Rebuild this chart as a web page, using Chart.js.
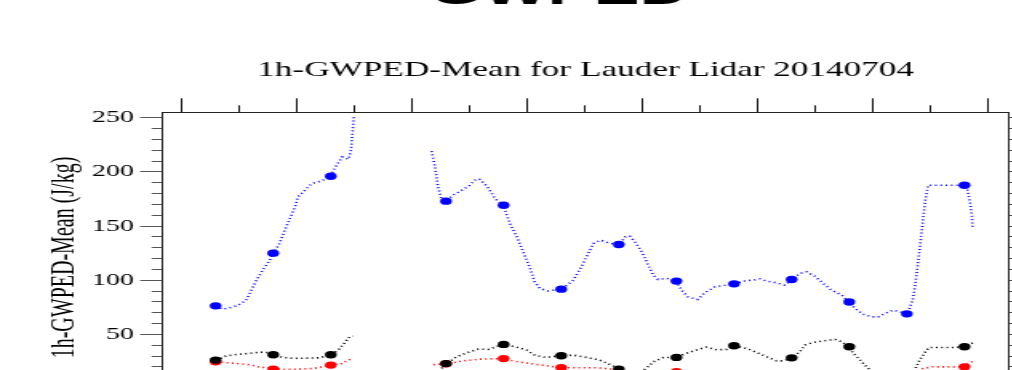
<!DOCTYPE html>
<html>
<head>
<meta charset="utf-8">
<script src="https://cdn.jsdelivr.net/npm/chart.js@4.4.1/dist/chart.umd.min.js"></script>
<style>
  html, body { margin: 0; padding: 0; background: #ffffff; overflow: hidden; width: 1012px; height: 370px; }
  #wrap { position: absolute; left: 0; top: -38px; transform: scaleX(1.6); transform-origin: 0 0; }
</style>
</head>
<body>
<div id="wrap"><canvas id="c" width="699" height="520"></canvas></div>
<script>
// ---- data (hours on the time axis, J/kg on the value axis) ----
const mainTitle = "GWPED";
const plotTitle = "1h-GWPED-Mean for Lauder Lidar 20140704";
const yAxisTitle = "1h-GWPED-Mean (J/kg)";

const hourTicks = [0,1,2,3,4,5,6,7,8,9,10,11,12,13,14];
const valueTicks = [-10,0,10,20,30,40,50,60,70,80,90,100,110,120,130,140,150,160,170,180,190,200,210,220,230,240,250];

const markerHours = [0.58,1.58,2.58,4.58,5.58,6.58,7.58,8.58,9.58,10.58,11.58,12.58,13.58];
const blueMean  = [76.4,125,196,173,169.3,91.8,133,99.2,96.7,100.7,80,69,187.7];
const blackMean = [26.3,31.2,31.2,23.1,40.8,30.3,18,28.8,39.5,28.4,38.6,8,38.6];
const redMean   = [24.7,18,21.7,23,27.7,19.4,15,15.5,13,11,12,9,20.1];

const blueLineHours = [0.59,0.69,0.78,0.95,1.11,1.175,1.29,1.41,1.52,1.585,1.69,1.78,1.87,1.96,2.01,2.10,2.25,2.42,2.57,2.68,2.78,2.89,2.93,2.96,2.98,
  3.6,
  4.33,4.39,4.44,4.50,4.58,4.70,4.88,4.99,5.10,5.17,5.30,5.43,5.57,5.69,5.81,5.92,6.04,6.12,6.21,6.35,6.59,6.79,6.93,7.08,7.14,7.27,7.43,7.59,7.69,7.77,
  7.86,7.98,8.09,8.18,8.26,8.41,8.57,8.67,8.78,8.95,9.07,9.25,9.45,9.59,9.74,9.91,10.03,10.15,10.32,10.46,10.59,10.72,10.84,10.98,11.13,11.27,11.45,11.57,11.68,11.82,
  11.97,12.08,12.20,12.34,12.46,12.59,12.68,12.72,12.78,12.82,12.86,12.90,12.95,13.15,13.33,13.56,13.62,13.68,13.71,13.72];
const blueLineValues = [76.4,73.3,74,76.4,81.4,88.4,100.1,110.2,118.5,125,134,146.2,157,167.7,177,181.5,189.3,191.7,196,206.2,213.8,211.7,220,238.4,251,
  null,
  219.1,204.6,186.2,175.5,173,178.5,183.8,187.7,193.3,193,186.2,175.5,169.3,152.4,140,126.2,110.9,98.5,92.4,90.2,91.8,100.1,112.4,127.8,134,137,134,133,140,140.7,
  135.4,126.2,113.9,104.7,100.7,101.7,99.2,90.9,84.7,82.3,88.4,93.9,95.5,96.7,99.2,100.1,101.3,99.2,97.6,95.5,100.7,106.3,107.7,103.8,97,90.9,86.3,80,74,68.7,
  66.2,66.2,69.4,72.4,70.8,69,81.6,93.9,118.5,137,155.4,173.9,187.7,187.7,187.7,187.7,186.2,170.8,158.5,148.7];

const blackLineHours = [0.585,0.77,0.94,1.175,1.35,1.465,1.59,1.75,1.92,2.16,2.39,2.57,2.71,2.82,2.91,2.96,
  3.6,
  4.33,4.45,4.50,4.59,4.76,4.94,5.14,5.31,5.57,5.78,5.98,6.12,6.30,6.59,6.79,7.02,7.25,7.45,7.59,7.80,7.95,8.06,8.18,8.35,8.57,8.75,8.96,9.10,9.28,9.45,
  9.59,9.80,9.97,10.15,10.32,10.43,10.59,10.72,10.81,10.95,11.13,11.33,11.45,11.57,11.65,11.77,11.88,12.05,12.30,12.59,12.72,12.80,12.92,12.98,13.21,13.38,13.56,13.67,13.73];
const blackLineValues = [26.3,30.3,31.5,32.5,33.7,33.4,31.2,28.8,27.9,28.1,28.4,31.2,35.5,42.3,48.2,48.4,
  null,
  8,15,18.5,23.1,29.3,33,36.4,36.2,40.8,38.6,35.5,30.9,28.8,30.3,30.9,28.8,26.3,21.7,18,14,15,19,24.7,28.6,28.8,32.5,36.2,38.3,35.8,36.2,
  39.5,37.1,33.4,29.3,25.6,25.6,28.4,33.9,40.1,42.6,44.1,45.4,43.2,38.6,32.5,26.3,20.1,12,7,8,17.7,26.3,35.5,38,38,38,38.6,41,42.3];

const redLineHours = [0.59,0.80,1.00,1.175,1.32,1.46,1.59,1.78,2.04,2.27,2.45,2.57,2.77,2.94,
  3.6,
  4.36,4.59,4.88,5.17,5.57,5.75,6.04,6.33,6.59,6.85,7.20,7.48,7.59,7.90,8.20,8.57,8.90,9.25,9.58,10.10,10.58,11.10,11.58,12.10,12.58,12.75,12.86,13.04,13.30,13.56,13.67,13.72];
const redLineValues = [24.7,23.8,22.9,22,20.1,19.2,18.3,17.7,18,18.6,20.1,21.7,23.2,27.7,
  null,
  22.1,23,25.6,27.2,27.7,25.4,23.2,21,19.4,19.2,19.2,18,15,13,14,15.5,15,14,13,12,11,13,12,10,9,14,18.6,20.1,20.1,20.1,23.8,25];

// ---- helpers ----
const pts = (xs, ys) => xs.map((x, i) => ({ x: x, y: ys[i] }));
const serif = '"Liberation Serif", "Times New Roman", Times, serif';
const X_MIN = -0.347, X_MAX = 14.357, Y_MIN = -13, Y_MAX = 255;
const DOT = [1, 2.3];

function lineDS(label, xs, ys, color, order) {
  return { label, data: pts(xs, ys), borderColor: color, borderWidth: 1.6, borderDash: DOT,
           pointRadius: 0, fill: false, tension: 0, spanGaps: false, order: order };
}
function markDS(label, xs, ys, color, order) {
  return { label, data: pts(xs, ys), showLine: false, pointRadius: 3.7, pointHoverRadius: 3.7,
           pointBackgroundColor: color, pointBorderWidth: 0, borderColor: color, backgroundColor: color, order: order };
}

const yMinorDashLeft = ctx => (ctx.tick && Math.round(ctx.tick.value) % 50 === 0) ? [] : [0, 7.15, 6.6];
const yMinorDashRight = ctx => (ctx.tick && Math.round(ctx.tick.value) % 50 === 0) ? [] : [6.6, 20];
const xMinorDash = ctx => (ctx.tick && Math.round(ctx.tick.value) % 2 === 0) ? [] : [0, 7, 7];

Chart.defaults.font.family = serif;
Chart.defaults.color = '#000';

new Chart(document.getElementById('c'), {
  type: 'line',
  data: {
    datasets: [
      lineDS('Red (dense)', redLineHours, redLineValues, '#ff0000', 12),
      lineDS('Black (dense)', blackLineHours, blackLineValues, '#000000', 11),
      lineDS('Blue (dense)', blueLineHours, blueLineValues, '#0000ff', 10),
      markDS('Red hourly', markerHours, redMean, '#ff0000', 2),
      markDS('Black hourly', markerHours, blackMean, '#000000', 1),
      markDS('Blue hourly', markerHours, blueMean, '#0000ff', 0)
    ]
  },
  options: {
    responsive: false,
    animation: false,
    devicePixelRatio: 1,
    layout: { padding: 0 },
    plugins: {
      legend: { display: false },
      tooltip: { enabled: false },
      title: {
        display: true, text: mainTitle, color: '#000',
        font: { family: '"Liberation Sans", Arial, Helvetica, sans-serif', size: 43, weight: 'bold', lineHeight: 1.2 },
        padding: { top: 4, bottom: 0 }
      }
    },
    scales: {
      x: {
        type: 'linear', position: 'bottom', min: X_MIN, max: X_MAX,
        afterBuildTicks: s => { s.ticks = hourTicks.map(v => ({ value: v })); },
        afterFit: s => { s.height = 79.3; },
        ticks: { display: true, font: { size: 17 }, color: '#000', maxRotation: 0, autoSkip: false },
        grid: { drawOnChartArea: false, drawTicks: true, tickLength: 14, tickColor: '#111', tickWidth: 1, tickBorderDash: xMinorDash },
        border: { display: true, color: '#222', width: 1 }
      },
      x2: {
        type: 'linear', position: 'top', min: X_MIN, max: X_MAX,
        afterBuildTicks: s => { s.ticks = hourTicks.map(v => ({ value: v })); },
        afterFit: s => { s.height = 94.7; },
        ticks: { display: false },
        grid: { drawOnChartArea: false, drawTicks: true, tickLength: 14, tickColor: '#111', tickWidth: 1, tickBorderDash: xMinorDash },
        border: { display: true, color: '#222', width: 1 },
        title: { display: true, text: plotTitle, color: '#000', font: { family: serif, size: 22, lineHeight: 1.2 }, padding: { top: 39.1, bottom: 0 } }
      },
      y: {
        type: 'linear', position: 'left', min: Y_MIN, max: Y_MAX,
        afterBuildTicks: s => { s.ticks = valueTicks.map(v => ({ value: v })); },
        afterFit: s => { s.width = 101.4; },
        ticks: { display: true, padding: 4, font: { family: serif, size: 17.5 }, color: '#000', autoSkip: false,
                 callback: v => (Math.round(v) % 50 === 0 ? String(v) : '') },
        grid: { drawOnChartArea: false, drawTicks: true, tickLength: 13.75, tickColor: '#555', tickWidth: 1, tickBorderDash: yMinorDashLeft },
        border: { display: true, color: '#222', width: 1 },
        title: { display: true, text: yAxisTitle, color: '#000', font: { family: serif, size: 20, lineHeight: 1.2 }, padding: { top: 29, bottom: 0 } }
      },
      y2: {
        type: 'linear', position: 'right', min: Y_MIN, max: Y_MAX,
        afterBuildTicks: s => { s.ticks = valueTicks.map(v => ({ value: v })); },
        afterFit: s => { s.width = 68.2; },
        ticks: { display: false },
        grid: { drawOnChartArea: false, drawTicks: true, tickLength: 13.75, tickColor: '#555', tickWidth: 1, tickBorderDash: yMinorDashRight },
        border: { display: true, color: '#222', width: 1 }
      }
    }
  }
});
</script>
</body>
</html>
